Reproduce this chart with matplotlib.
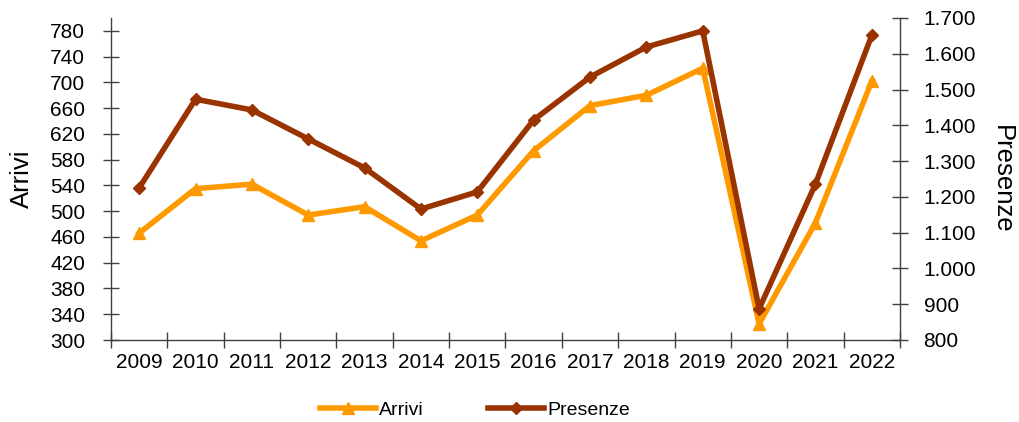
import matplotlib
matplotlib.use("Agg")
import matplotlib.pyplot as plt
from matplotlib.ticker import FuncFormatter, FixedLocator

years = ["2009", "2010", "2011", "2012", "2013", "2014", "2015", "2016",
         "2017", "2018", "2019", "2020", "2021", "2022"]
arrivi = [466, 535, 542, 494, 507, 454, 494, 594, 664, 680, 722, 325, 482, 702]
presenze = [1225, 1473, 1443, 1362, 1281, 1166, 1214, 1415, 1535, 1619, 1664, 887, 1236, 1652]

plt.rcParams['font.family'] = ['Liberation Sans', 'DejaVu Sans']
ORANGE = "#FF9900"
BROWN = "#993300"
AXC = "#404040"
TS = 15

fig = plt.figure(figsize=(10.2, 4.22), dpi=100)
ax = fig.add_axes([111/1020, 1-340/422, (900-111)/1020, (340-18)/422])
ax2 = ax.twinx()

x = list(range(len(years)))
l1, = ax.plot(x, arrivi, color=ORANGE, lw=4, marker='^', ms=8, zorder=3, label="Arrivi")
l2, = ax2.plot(x, presenze, color=BROWN, lw=4, marker='D', ms=6, zorder=3, label="Presenze")

ax.set_xlim(-0.5, len(years) - 0.5)
ax.set_ylim(300, 800)
ax.set_yticks(range(300, 781, 40))
ax2.set_ylim(800, 1700)
ax2.set_yticks(range(800, 1701, 100))
ax2.yaxis.set_major_formatter(FuncFormatter(lambda v, p: f"{int(v):,}".replace(",", ".")))

ax.set_xticks(x)
ax.set_xticklabels(years)
ax.xaxis.set_minor_locator(FixedLocator([i + 0.5 for i in range(-1, len(years))]))
ax.tick_params(axis='x', which='major', length=0, labelsize=TS, pad=9)
ax.tick_params(axis='x', which='minor', direction='inout', length=12, color=AXC, width=1)
ax.tick_params(axis='y', direction='inout', length=12, color=AXC, width=1, labelsize=TS, pad=12.5)
ax2.tick_params(axis='y', direction='inout', length=12, color=AXC, width=1, labelsize=TS, pad=11)

for a in (ax, ax2):
    a.spines['top'].set_visible(False)
    for s in ('left', 'right', 'bottom'):
        a.spines[s].set_color(AXC)
        a.spines[s].set_linewidth(1)
ax.spines['right'].set_visible(False)
ax2.spines['left'].set_visible(False)
ax2.spines['bottom'].set_visible(False)

ax.set_ylabel("Arrivi", fontsize=18.5, labelpad=12)
ax2.set_ylabel("Presenze", fontsize=18.5, rotation=270, labelpad=27)

fig.legend([l1, l2], ["Arrivi", "Presenze"], loc='center', bbox_to_anchor=(475/1020, 1-410/422),
           ncol=2, frameon=False, fontsize=14, handlelength=2.9, columnspacing=3.3,
           handletextpad=0.15)

fig.savefig("out.png", dpi=100)
